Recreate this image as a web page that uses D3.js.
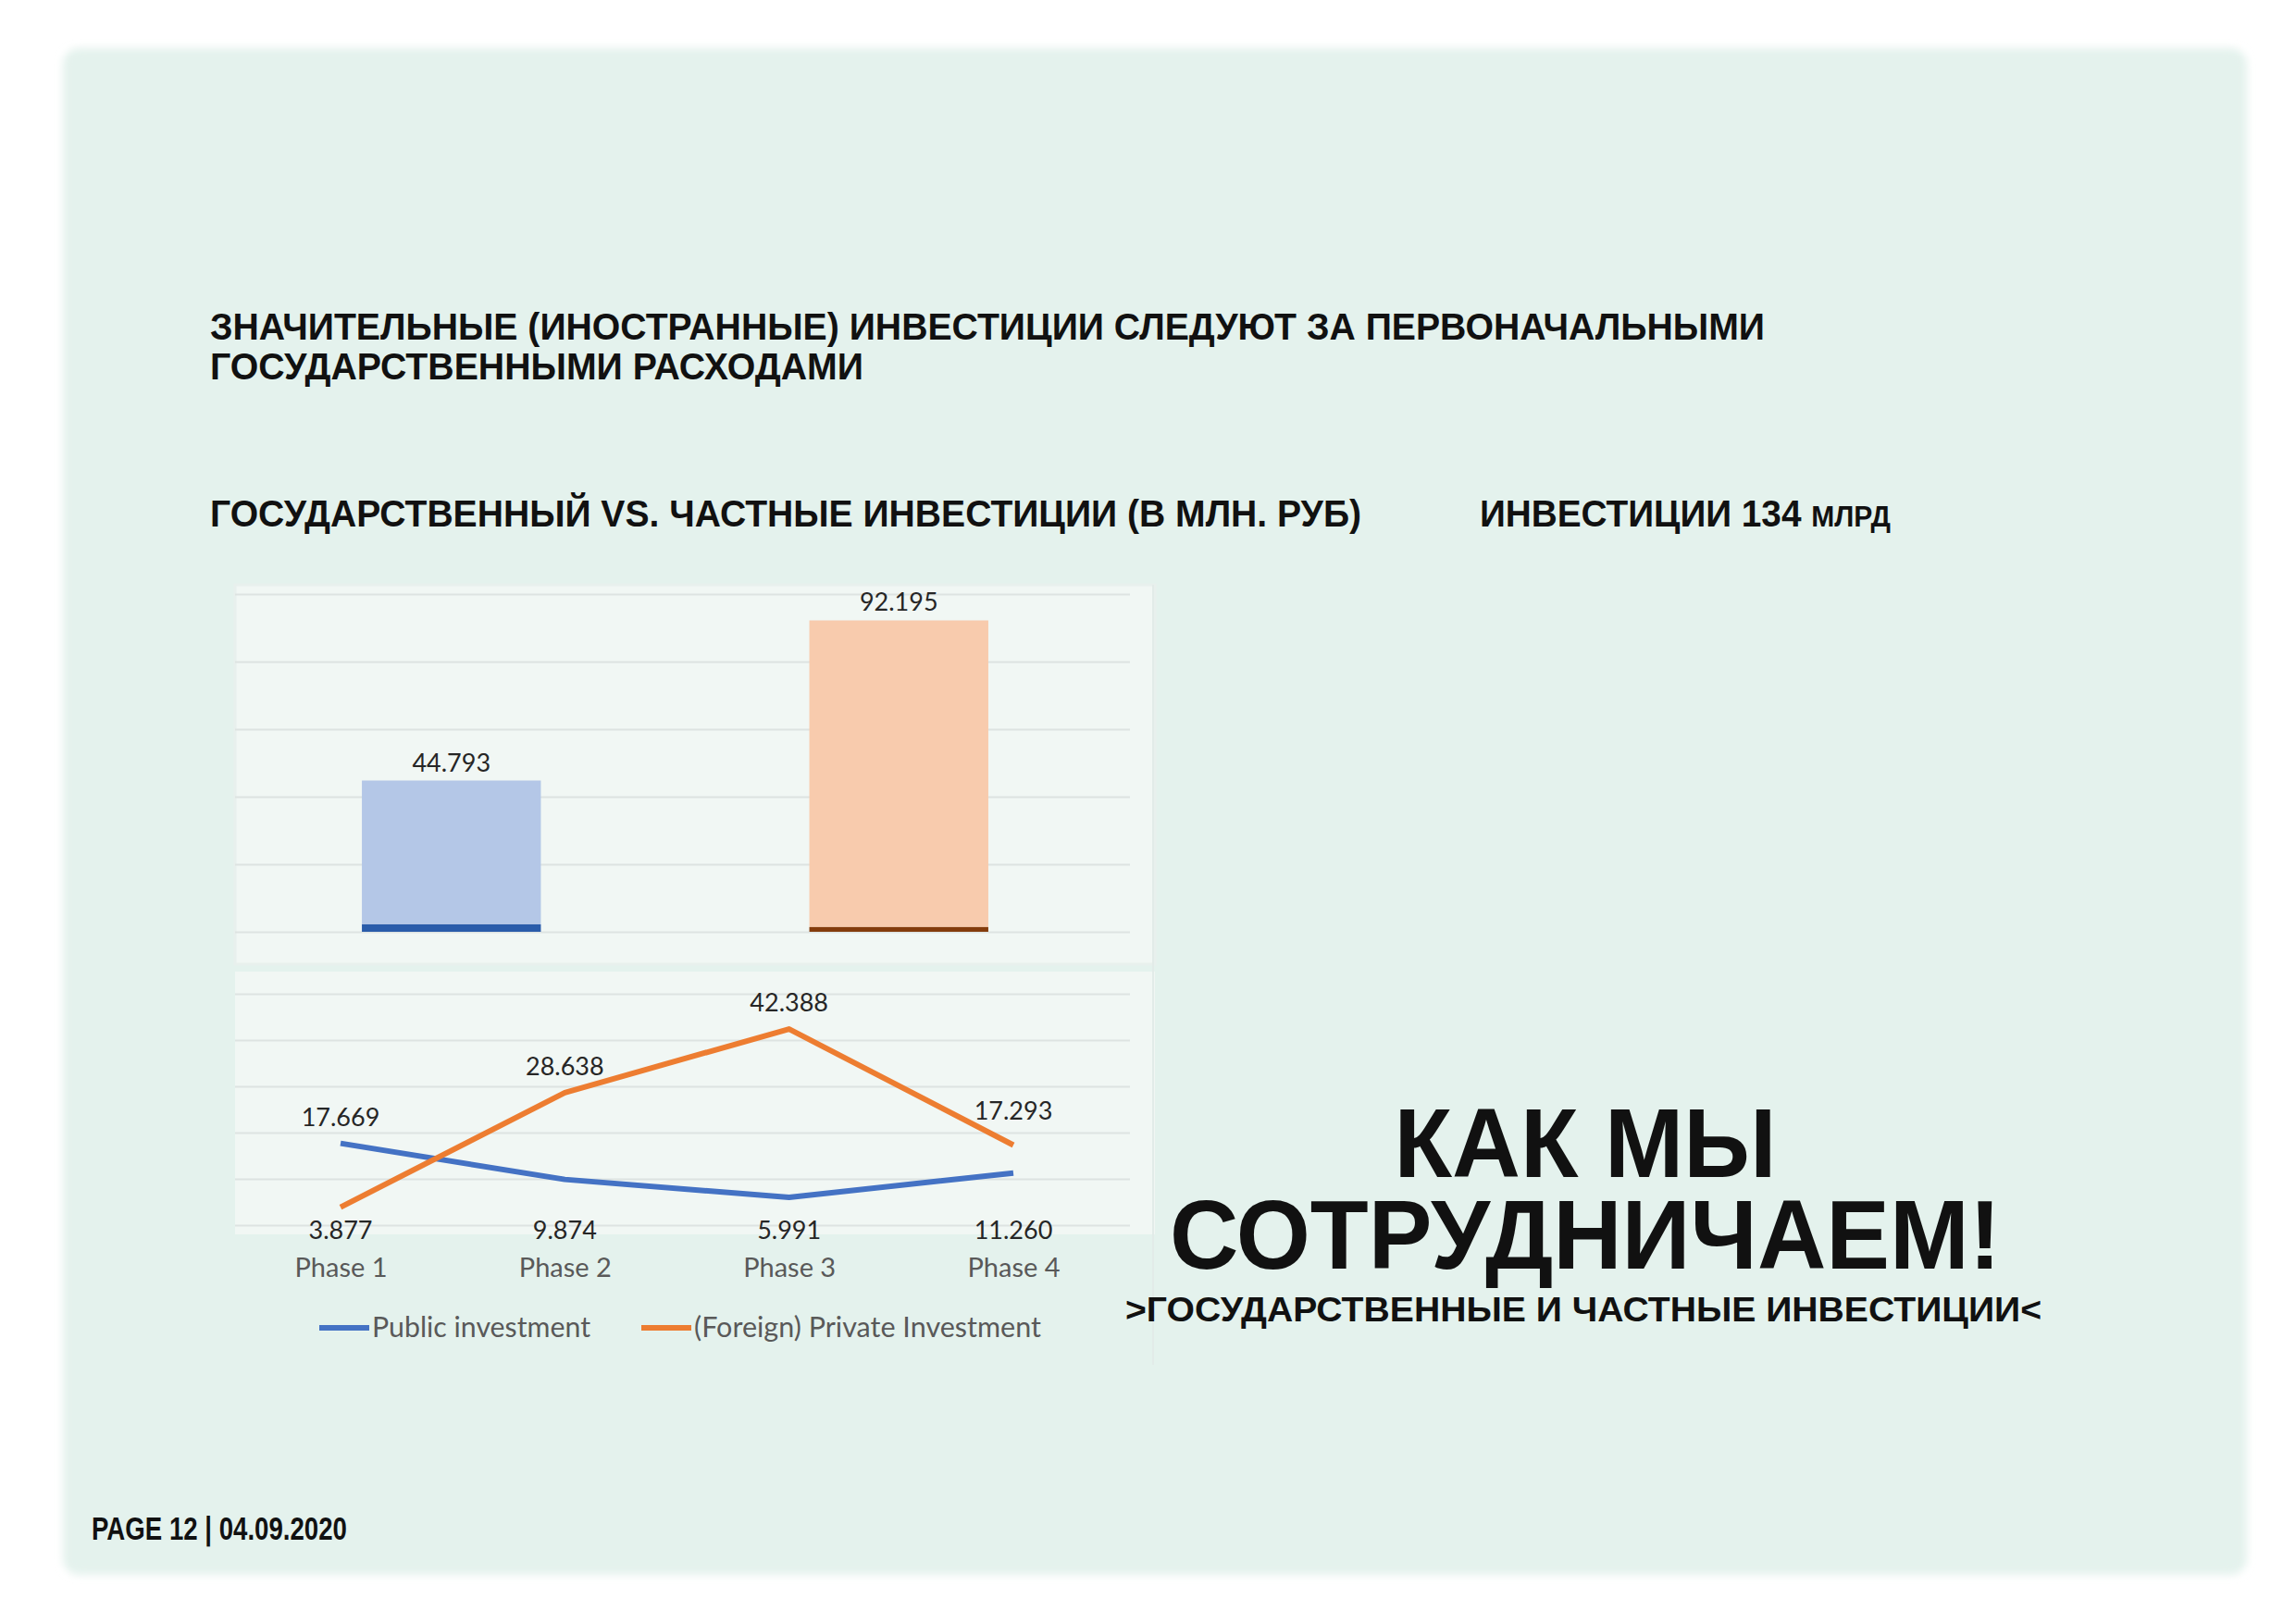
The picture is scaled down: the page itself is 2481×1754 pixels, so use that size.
<!DOCTYPE html>
<html>
<head>
<meta charset="utf-8">
<script src="https://cdn.jsdelivr.net/npm/d3@7"></script>
<style>
  body { margin: 0; background: #ffffff; }
  svg { display: block; }
</style>
</head>
<body>
<script>
// bar chart data
let barNames = ['Public investment', '(Foreign) Private Investment']
let barValues = [44.793, 92.195]
let barBaseValues = [2.2, 1.4]
let barTicks = [0, 20, 40, 60, 80, 100]

// line chart data
let phases = ['Phase 1', 'Phase 2', 'Phase 3', 'Phase 4']
let publicValues = [17.669, 9.874, 5.991, 11.260]
let privateValues = [3.877, 28.638, 42.388, 17.293]
let lineTicks = [0, 10, 20, 30, 40, 50]

let width = 2481
let height = 1754

let svg = d3.select('body').append('svg')
    .attr('width', width)
    .attr('height', height)

let defs = svg.append('defs')
let blur = defs.append('filter').attr('id', 'soft').attr('x', '-5%').attr('y', '-5%').attr('width', '110%').attr('height', '110%')
blur.append('feGaussianBlur').attr('stdDeviation', 4)

// page card
svg.append('rect')
    .attr('x', 68).attr('y', 52)
    .attr('width', 2360).attr('height', 1650)
    .attr('rx', 18)
    .attr('fill', '#e4f2ed')
    .attr('filter', 'url(#soft)')

let head = "'Liberation Sans', Arial, sans-serif"
let narrow = "'Liberation Sans Narrow', 'Liberation Sans', Arial, sans-serif"
let calibri = "Lato, 'Open Sans', sans-serif"

const addText = (x, y, txt, size, opts = {}) => {
    let t = svg.append('text')
        .attr('x', x).attr('y', y)
        .attr('font-family', opts.family || head)
        .attr('font-size', size)
        .attr('font-weight', opts.weight || 'bold')
        .attr('fill', opts.fill || '#111111')
        .attr('text-anchor', opts.anchor || 'start')
        .text(txt)
    if (opts.len) t.attr('textLength', opts.len).attr('lengthAdjust', 'spacingAndGlyphs')
    return t
}

// squeeze a text (with tspans) horizontally to a given width
const fitText = (t, x, y, w) => {
    let natural = t.node().getBBox().width
    t.attr('transform', `translate(${x}, ${y}) scale(${w / natural}, 1)`)
}

// headings
addText(227, 367, 'ЗНАЧИТЕЛЬНЫЕ (ИНОСТРАННЫЕ) ИНВЕСТИЦИИ СЛЕДУЮТ ЗА ПЕРВОНАЧАЛЬНЫМИ', 40, { len: 1680 })
addText(227, 410, 'ГОСУДАРСТВЕННЫМИ РАСХОДАМИ', 40, { len: 706 })
addText(227, 569, 'ГОСУДАРСТВЕННЫЙ VS. ЧАСТНЫЕ ИНВЕСТИЦИИ (В МЛН. РУБ)', 40, { len: 1244 })
let inv = svg.append('text')
    .attr('font-family', head).attr('font-weight', 'bold').attr('fill', '#111111')
inv.append('tspan').attr('font-size', 40).text('ИНВЕСТИЦИИ 134 ')
inv.append('tspan').attr('font-size', 31).text('МЛРД')
fitText(inv, 1599, 569, 444)

// ---------- bar chart ----------
svg.append('rect')
    .attr('x', 254).attr('y', 632)
    .attr('width', 994).attr('height', 410)
    .attr('fill', '#f1f7f4')
    .attr('stroke', '#e8f0ed').attr('stroke-width', 3)

let barX = d3.scaleBand()
    .domain(barNames)
    .range([246, 1213])
    .paddingInner(0.6)
    .paddingOuter(0.3)

let barY = d3.scaleLinear()
    .domain([0, 100])
    .range([1007, 642])

svg.append('g')
    .attr('transform', 'translate(254, 0)')
    .call(d3.axisLeft(barY).tickValues(barTicks).tickSize(-967).tickFormat(''))
    .call(g => g.select('.domain').remove())
    .call(g => g.selectAll('line').attr('stroke', '#dde3e1').attr('stroke-width', 2))

let barFill = ['#b4c7e7', '#f8cbad']
let barBase = ['#2a5caa', '#843c0c']

svg.selectAll('.bar')
    .data(barValues)
    .enter()
    .append('rect')
    .attr('class', 'bar')
    .attr('x', (d, i) => barX(barNames[i]))
    .attr('width', barX.bandwidth())
    .attr('y', d => barY(d))
    .attr('height', (d, i) => barY(barBaseValues[i]) - barY(d))
    .attr('fill', (d, i) => barFill[i])

svg.selectAll('.bar-base')
    .data(barBaseValues)
    .enter()
    .append('rect')
    .attr('class', 'bar-base')
    .attr('x', (d, i) => barX(barNames[i]))
    .attr('width', barX.bandwidth())
    .attr('y', d => barY(d))
    .attr('height', d => barY(0) - barY(d))
    .attr('fill', (d, i) => barBase[i])

svg.selectAll('.bar-label')
    .data(barValues)
    .enter()
    .append('text')
    .attr('class', 'bar-label')
    .attr('x', (d, i) => barX(barNames[i]) + barX.bandwidth() / 2)
    .attr('y', d => barY(d) - 10)
    .attr('text-anchor', 'middle')
    .attr('font-family', calibri)
    .attr('font-size', 27)
    .attr('fill', '#262626')
    .text(d => d.toFixed(3))

// ---------- line chart ----------
svg.append('rect')
    .attr('x', 254).attr('y', 1050)
    .attr('width', 994).attr('height', 284)
    .attr('fill', '#f1f7f4')
svg.append('line')
    .attr('x1', 1246).attr('x2', 1246)
    .attr('y1', 632).attr('y2', 1475)
    .attr('stroke', '#e2ebe8').attr('stroke-width', 2)

let lineX = d3.scalePoint()
    .domain(phases)
    .range([368, 1095])

let lineY = d3.scaleLinear()
    .domain([0, 50])
    .range([1324, 1074])

svg.append('g')
    .attr('transform', 'translate(254, 0)')
    .call(d3.axisLeft(lineY).tickValues(lineTicks).tickSize(-967).tickFormat(''))
    .call(g => g.select('.domain').remove())
    .call(g => g.selectAll('line').attr('stroke', '#dde3e1').attr('stroke-width', 2))

let line = d3.line()
    .x((d, i) => lineX(phases[i]))
    .y(d => lineY(d))

svg.append('path')
    .datum(publicValues)
    .attr('d', line)
    .attr('fill', 'none')
    .attr('stroke', '#4472c4')
    .attr('stroke-width', 6)
    .attr('stroke-linejoin', 'round')

svg.append('path')
    .datum(privateValues)
    .attr('d', line)
    .attr('fill', 'none')
    .attr('stroke', '#ed7d31')
    .attr('stroke-width', 6)
    .attr('stroke-linejoin', 'round')

// labels: the higher value of each phase goes above, the lower one sits on the axis row
phases.forEach((p, i) => {
    let a = publicValues[i]
    let b = privateValues[i]
    let hi = Math.max(a, b)
    let lo = Math.min(a, b)
    svg.append('text')
        .attr('x', lineX(p))
        .attr('y', lineY(hi) - (i === 3 ? 28 : 19))
        .attr('text-anchor', 'middle')
        .attr('font-family', calibri)
        .attr('font-size', 27)
        .attr('fill', '#262626')
        .text(hi.toFixed(3))
    svg.append('text')
        .attr('x', lineX(p))
        .attr('y', lineY(0) + 15)
        .attr('text-anchor', 'middle')
        .attr('font-family', calibri)
        .attr('font-size', 27)
        .attr('fill', '#262626')
        .text(lo.toFixed(3))
})

svg.append('g')
    .attr('transform', 'translate(0, 1349)')
    .call(d3.axisBottom(lineX).tickSize(0).tickPadding(10))
    .call(g => g.select('.domain').remove())
    .call(g => g.selectAll('text')
        .attr('font-family', calibri)
        .attr('font-size', 29)
        .attr('fill', '#595959'))

// legend
let legend = [
    { name: 'Public investment', color: '#4472c4', x: 345, len: 236 },
    { name: '(Foreign) Private Investment', color: '#ed7d31', x: 693, len: 375 }
]
legend.forEach(l => {
    svg.append('line')
        .attr('x1', l.x).attr('x2', l.x + 54)
        .attr('y1', 1435).attr('y2', 1435)
        .attr('stroke', l.color).attr('stroke-width', 6)
    svg.append('text')
        .attr('x', l.x + 57).attr('y', 1445)
        .attr('font-family', calibri)
        .attr('font-size', 30)
        .attr('fill', '#595959')
        .attr('textLength', l.len).attr('lengthAdjust', 'spacingAndGlyphs')
        .text(l.name)
})

// right side callout
addText(1713, 1272, 'КАК МЫ', 106, { anchor: 'middle', len: 413 })
addText(1264, 1371, 'СОТРУДНИЧАЕМ!', 106, { len: 898 })
addText(1216, 1428, '>ГОСУДАРСТВЕННЫЕ И ЧАСТНЫЕ ИНВЕСТИЦИИ<', 37, { len: 990 })

// footer
let foot = svg.append('text')
    .attr('font-family', narrow).attr('font-weight', 'bold')
    .attr('font-size', 35).attr('fill', '#111111')
    .text('PAGE 12 | 04.09.2020')
fitText(foot, 99, 1664, 276)
</script>
</body>
</html>
